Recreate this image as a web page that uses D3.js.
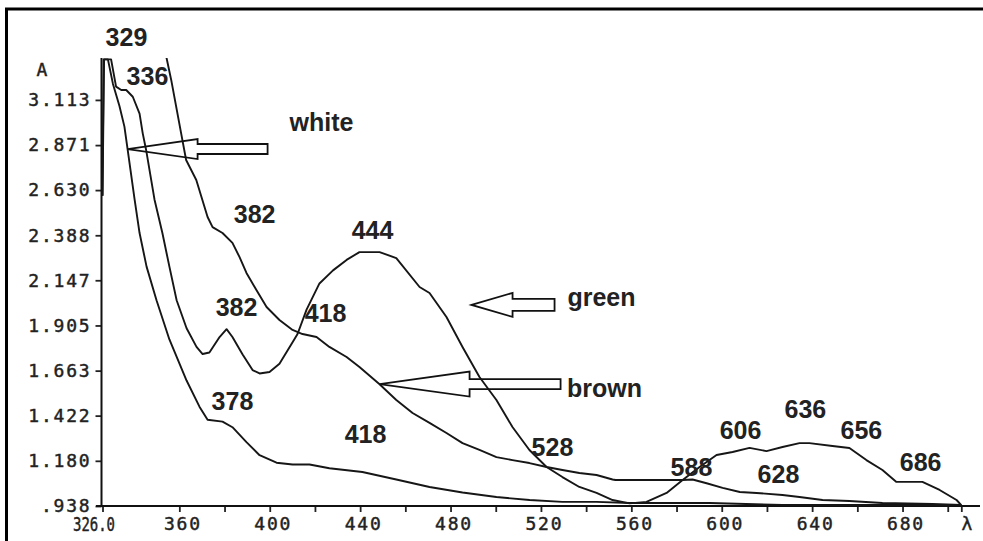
<!DOCTYPE html>
<html>
<head>
<meta charset="utf-8">
<script src="https://cdn.jsdelivr.net/npm/d3@7"></script>
<style>
  html, body { margin: 0; padding: 0; background: #fff; }
  svg { display: block; }
</style>
</head>
<body>
<div id="chart"></div>
<script>
// absorbance spectra, [wavelength nm, absorbance A]
const WHITE = [
  [326.0, 2.60], [326.5, 3.33], [328.4, 3.33], [330.6, 3.20], [333.5, 3.08],
  [335.7, 2.97], [337.1, 2.85], [340.2, 2.58], [342.4, 2.40], [345.5, 2.22],
  [349.9, 2.04], [355.6, 1.83], [363.2, 1.61], [368.9, 1.47], [372.5, 1.40],
  [379.1, 1.39], [383.5, 1.36], [389.7, 1.28], [395.5, 1.21], [403.0, 1.17],
  [410.1, 1.16], [417.6, 1.16], [426.4, 1.14], [441.0, 1.12], [456.0, 1.08],
  [470.7, 1.04], [485.3, 1.01], [500.3, 0.986], [515.0, 0.97], [529.5, 0.96],
  [544.6, 0.96], [559.2, 0.954], [594.6, 0.954], [626.9, 0.943], [706.0, 0.943]
];

const GREEN = [
  [326.0, 2.60], [326.7, 3.33], [329.8, 3.33], [332.0, 3.184], [334.3, 3.166],
  [336.5, 3.166], [339.4, 3.13], [342.4, 3.04], [343.8, 2.934], [345.3, 2.845],
  [349.0, 2.58], [352.5, 2.40], [355.6, 2.22], [358.8, 2.04], [363.2, 1.89],
  [367.6, 1.79], [370.3, 1.752], [373.3, 1.76], [377.8, 1.843], [380.9, 1.885],
  [383.5, 1.843], [388.0, 1.75], [392.4, 1.666], [395.5, 1.648], [399.9, 1.656],
  [404.3, 1.70], [410.1, 1.815], [412.3, 1.859], [416.3, 1.99], [422.0, 2.13],
  [428.0, 2.20], [434.0, 2.256], [439.7, 2.298], [448.6, 2.298], [456.0, 2.266],
  [466.3, 2.111], [470.7, 2.079], [478.2, 1.95], [485.3, 1.79], [492.8, 1.629],
  [500.3, 1.506], [507.4, 1.361], [514.9, 1.238], [522.5, 1.147], [529.5, 1.093],
  [537.0, 1.04], [544.6, 1.008], [551.7, 0.97], [559.2, 0.952], [566.7, 0.96],
  [575.6, 1.008], [582.7, 1.077], [590.2, 1.147], [597.7, 1.211], [604.8, 1.227],
  [612.3, 1.249], [619.8, 1.232], [626.9, 1.254], [634.4, 1.275], [638.8, 1.275],
  [649.0, 1.259], [656.5, 1.249], [664.0, 1.184], [671.1, 1.131], [677.3, 1.067],
  [688.8, 1.067], [696.4, 1.024], [703.9, 0.97], [706.0, 0.943]
];

const BROWN = [
  [354.3, 3.34], [356.4, 3.22], [358.6, 3.077], [360.8, 2.934], [363.0, 2.791],
  [367.5, 2.684], [370.2, 2.577], [372.5, 2.486], [374.7, 2.432], [379.1, 2.40],
  [383.5, 2.347], [386.6, 2.272], [389.7, 2.186], [394.1, 2.095], [398.6, 2.004],
  [404.3, 1.934], [410.1, 1.881], [414.5, 1.859], [420.7, 1.843], [426.4, 1.79],
  [434.0, 1.736], [439.7, 1.682], [448.6, 1.59], [456.0, 1.506], [463.2, 1.436],
  [470.7, 1.383], [478.2, 1.329], [485.3, 1.275], [492.8, 1.238], [500.3, 1.20],
  [507.4, 1.184], [514.9, 1.168], [522.5, 1.147], [529.5, 1.131], [537.0, 1.115],
  [544.6, 1.104], [551.7, 1.08], [553.0, 1.077], [582.7, 1.077], [587.1, 1.08],
  [593.3, 1.06], [600.4, 1.035], [608.0, 1.013], [615.4, 1.008], [626.9, 0.997],
  [634.4, 0.986], [644.6, 0.97], [656.5, 0.965], [671.1, 0.954], [693.3, 0.949],
  [706.0, 0.943]
];

// axis ticks
const Y_TICKS = [0.938, 1.180, 1.422, 1.663, 1.905, 2.147, 2.388, 2.630, 2.871, 3.113];
const Y_TICK_LABELS = [".938", "1.180", "1.422", "1.663", "1.905", "2.147", "2.388", "2.630", "2.871", "3.113"];
const X_TICKS = [326, 360, 380, 400, 420, 440, 460, 480, 500, 520, 540, 560, 580, 600, 620, 640, 660, 680, 700, 706];
const X_TICK_LABELS = ["326.0", "360", "", "400", "", "440", "", "480", "", "520", "", "560", "", "600", "", "640", "", "680", "", ""];

// peak annotations: text, wavelength, absorbance at text centre
const PEAK_TEXT = ["329", "336", "382", "444", "382", "418", "378", "418", "528", "588", "606", "636", "656", "628", "686"];
const PEAK_NM   = [336.6, 345.9, 393.3, 445.5, 385.3, 424.7, 383.5, 442.4, 525.1, 586.6, 608.3, 637.0, 661.8, 625.1, 688.0];
const PEAK_A    = [3.450, 3.241, 2.502, 2.416, 2.004, 1.972, 1.500, 1.324, 1.254, 1.147, 1.345, 1.458, 1.345, 1.109, 1.174];

// sample names with the point their arrow touches
const SAMPLES = ["white", "green", "brown"];
const ARROW_NM = [337.1, 489.3, 448.6];
const ARROW_A  = [2.850, 2.015, 1.591];
const NAME_NM  = [422.9, 546.8, 548.1];
const NAME_A   = [2.995, 2.057, 1.570];

const width = 983;
const height = 541;

const svg = d3.select("#chart")
  .append("svg")
  .attr("width", width)
  .attr("height", height);

// frame
svg.append("rect")
  .attr("x", 6.5).attr("y", 9)
  .attr("width", 1000).attr("height", 1000)
  .attr("fill", "none")
  .attr("stroke", "#000")
  .attr("stroke-width", 3);

const x = d3.scaleLinear().domain([326, 706]).range([102.5, 961.3]);
const y = d3.scaleLinear().domain([0.938, 3.33]).range([506, 59.4]);

const tickFont = "'DejaVu Sans Mono', 'Liberation Mono', monospace";
const labelFont = "'Liberation Sans', Arial, sans-serif";

function styleTickText(sel) {
  sel.attr("fill", "#222")
    .attr("stroke", "#222")
    .attr("stroke-width", 0.45)
    .style("font-family", tickFont)
    .style("font-size", "18px")
    .style("letter-spacing", "1.8px");
}

// y axis
const yAxis = svg.append("g")
  .attr("transform", "translate(101.5,0)")
  .call(d3.axisLeft(y).tickValues(Y_TICKS)
    .tickFormat((d, i) => Y_TICK_LABELS[i])
    .tickSize(6).tickPadding(4));
yAxis.select(".domain").remove();
yAxis.selectAll("line").attr("stroke", "#222").attr("stroke-width", 1.8);
yAxis.selectAll("text").call(styleTickText);

// x axis
const xAxis = svg.append("g")
  .attr("transform", "translate(0,506)")
  .call(d3.axisBottom(x).tickValues(X_TICKS)
    .tickFormat((d, i) => X_TICK_LABELS[i])
    .tickSize(6).tickPadding(5.5));
xAxis.select(".domain").remove();
xAxis.selectAll("line").attr("stroke", "#222").attr("stroke-width", 1.8);
xAxis.selectAll("text").call(styleTickText).attr("dx", 3);
xAxis.selectAll("text")
  .filter((d) => d === 326)
  .attr("dx", -9)
  .attr("textLength", 42)
  .attr("lengthAdjust", "spacingAndGlyphs")
  .style("font-size", "19px")
  .style("letter-spacing", "0px");

// axis lines
svg.append("line")
  .attr("x1", 101.5).attr("x2", 101.5)
  .attr("y1", y(0.938) + 1).attr("y2", 58)
  .attr("stroke", "#111").attr("stroke-width", 2);
svg.append("line")
  .attr("x1", 96).attr("x2", 980)
  .attr("y1", y(0.938)).attr("y2", y(0.938))
  .attr("stroke", "#111").attr("stroke-width", 2.2);

// axis names
svg.append("text")
  .attr("x", 42).attr("y", 70).attr("dy", "0.36em")
  .attr("text-anchor", "middle")
  .call(styleTickText)
  .style("letter-spacing", "0px")
  .text("A");
svg.append("text")
  .attr("x", 967).attr("y", 524).attr("dy", "0.36em")
  .attr("text-anchor", "middle")
  .call(styleTickText)
  .style("letter-spacing", "0px")
  .text("λ");

// spectra
svg.append("clipPath").attr("id", "plot-clip")
  .append("rect")
  .attr("x", 100).attr("y", 58)
  .attr("width", 870).attr("height", 450);

const line = d3.line()
  .x((d) => x(d[0]))
  .y((d) => y(d[1]));

const plot = svg.append("g").attr("clip-path", "url(#plot-clip)");
[WHITE, GREEN, BROWN].forEach((series) => {
  plot.append("path")
    .datum(series)
    .attr("fill", "none")
    .attr("stroke", "#161616")
    .attr("stroke-width", 1.9)
    .attr("stroke-linejoin", "round")
    .attr("d", line);
});

// peak labels
PEAK_TEXT.forEach((t, i) => {
  svg.append("text")
    .attr("x", x(PEAK_NM[i]))
    .attr("y", y(PEAK_A[i]))
    .attr("dy", "0.36em")
    .attr("text-anchor", "middle")
    .attr("fill", "#222")
    .style("font-family", labelFont)
    .style("font-size", "25px")
    .style("font-weight", "bold")
    .text(t);
});

// outline arrows: head length, head half-height, shaft half-height, total length
const ARROW_SHAPE = [[70, 10, 5, 140], [41, 12, 6, 83], [90, 12.5, 5, 181]];

SAMPLES.forEach((name, i) => {
  const tx = x(ARROW_NM[i]);
  const ty = y(ARROW_A[i]);
  const [hl, hh, sh, len] = ARROW_SHAPE[i];
  const p = d3.path();
  p.moveTo(tx, ty);
  p.lineTo(tx + hl, ty - hh);
  p.lineTo(tx + hl, ty - sh);
  p.lineTo(tx + len, ty - sh);
  p.lineTo(tx + len, ty + sh);
  p.lineTo(tx + hl, ty + sh);
  p.lineTo(tx + hl, ty + hh);
  p.closePath();
  svg.append("path")
    .attr("d", p.toString())
    .attr("fill", "none")
    .attr("stroke", "#111")
    .attr("stroke-width", 1.8)
    .attr("stroke-linejoin", "miter");

  svg.append("text")
    .attr("x", x(NAME_NM[i]))
    .attr("y", y(NAME_A[i]))
    .attr("dy", "0.36em")
    .attr("text-anchor", "middle")
    .attr("fill", "#222")
    .style("font-family", labelFont)
    .style("font-size", "25px")
    .style("font-weight", "bold")
    .text(name);
});
</script>
</body>
</html>
